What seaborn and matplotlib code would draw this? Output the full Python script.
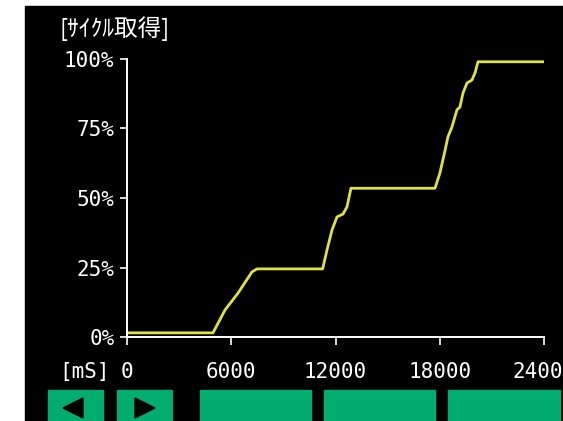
import matplotlib
matplotlib.use("Agg")
import matplotlib.pyplot as plt
import seaborn as sns
import pandas as pd
from matplotlib.patches import Rectangle, Polygon

# --- data ---
time_ms = [0, 4780, 4950, 5640, 6390, 7190, 7480, 11260, 11510, 11800, 12085,
           12430, 12660, 12890, 17725, 18010, 18300, 18470, 18700, 18990,
           19160, 19340, 19570, 19850, 20030, 20200, 24000]
cycle_pct = [1.5, 1.5, 1.5, 9.7, 15.8, 23.4, 24.5, 24.5, 31.3, 38.5, 43.2,
             44.2, 46.8, 53.5, 53.5, 59.0, 67.0, 72.0, 75.5, 81.7,
             82.7, 87.8, 91.4, 92.4, 95.0, 99.0, 99.0]
x_ticks = [0, 6000, 12000, 18000, 24000]
y_ticks = [0, 25, 50, 75, 100]
y_labels = ["0%", "25%", "50%", "75%", "100%"]
title = "[ｻｲｸﾙ取得]"
x_unit = "[mS]"

df = pd.DataFrame({"time": time_ms, "pct": cycle_pct})

sns.set_style("dark", rc={"axes.facecolor": "none", "figure.facecolor": "white"})
plt.rcParams["font.family"] = ["DejaVu Sans Mono", "Noto Sans CJK JP"]

W, H = 563, 421
fig = plt.figure(figsize=(W / 100, H / 100), dpi=100)

# black screen area (behind the axes)
fig.patches.append(Rectangle((25 / W, 0), 538 / W, 415 / H, transform=fig.transFigure,
                             color="black", zorder=-1))

ax = fig.add_axes([127 / W, (H - 337) / H, 417 / W, 278 / H])
ax.set_facecolor("none")
sns.lineplot(data=df, x="time", y="pct", ax=ax, color="#dde43e", linewidth=2.0,
             sort=False, estimator=None)

ax.set_xlim(0, 24000)
ax.set_ylim(0, 100)
ax.set_xticks(x_ticks)
ax.set_xticklabels([str(t) for t in x_ticks])
ax.set_yticks(y_ticks)
ax.set_yticklabels(y_labels)
ax.set_xlabel("")
ax.set_ylabel("")
ax.grid(False)

for s in ["top", "right"]:
    ax.spines[s].set_visible(False)
for s in ["left", "bottom"]:
    ax.spines[s].set_color("white")
    ax.spines[s].set_linewidth(1.4)

ax.tick_params(axis="x", bottom=True, colors="white", direction="out", length=6,
               width=1.2, pad=12, labelsize=15)
ax.tick_params(axis="y", left=True, colors="white", direction="out", length=5,
               width=1.2, pad=4, labelsize=15)

# header and unit
fig.text(60 / W, 1 - 29 / H, title, color="white", fontsize=17, va="center", ha="left",
         family=["Noto Sans CJK JP", "DejaVu Sans"])
fig.text(110 / W, 1 - 372 / H, x_unit, color="white", fontsize=15, va="center", ha="right")

# green buttons at the bottom
buttons = [(48, 103), (117, 172), (200, 311), (324, 435), (448, 560)]
for x0, x1 in buttons:
    fig.patches.append(Rectangle((x0 / W, 0), (x1 - x0) / W, 31 / H,
                                 transform=fig.transFigure, color="#00ad6f", zorder=1))
# arrows
fig.patches.append(Polygon([(63 / W, 13 / H), (83 / W, 3 / H), (83 / W, 23 / H)],
                           closed=True, transform=fig.transFigure, color="black", zorder=2))
fig.patches.append(Polygon([(155 / W, 13 / H), (135 / W, 3 / H), (135 / W, 23 / H)],
                           closed=True, transform=fig.transFigure, color="black", zorder=2))

fig.savefig("out.png", dpi=100)
